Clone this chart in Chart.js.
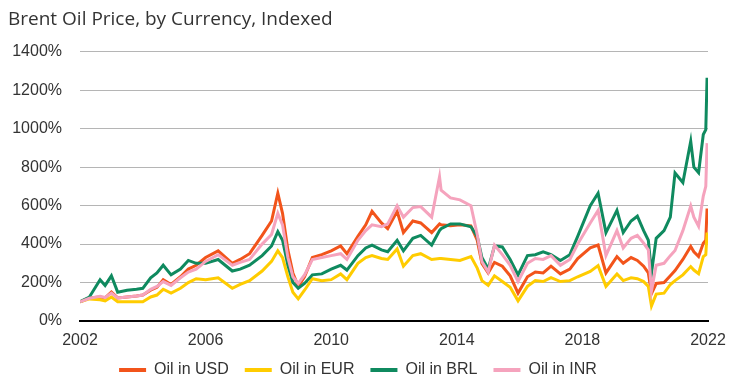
<!DOCTYPE html>
<html>
<head>
<meta charset="utf-8">
<script src="https://cdn.jsdelivr.net/npm/chart.js@4.4.1/dist/chart.umd.min.js"></script>
<style>
  body { margin: 0; background: #fff; }
</style>
</head>
<body>
<canvas id="myChart" width="740" height="390"></canvas>
<script>
// dates as decimal years
const dates = [2002.0, 2002.3, 2002.64, 2002.8, 2003.0, 2003.2, 2003.5, 2003.8, 2004.0, 2004.25,
  2004.45, 2004.65, 2004.9, 2005.2, 2005.45, 2005.7, 2006.0, 2006.4, 2006.85, 2007.1,
  2007.4, 2007.8, 2008.1, 2008.3, 2008.45, 2008.62, 2008.78, 2008.95, 2009.15, 2009.4,
  2009.7, 2010.0, 2010.3, 2010.5, 2010.85, 2011.1, 2011.3, 2011.6, 2011.8, 2012.1,
  2012.3, 2012.6, 2012.85, 2013.2, 2013.45, 2013.5, 2013.8, 2014.1, 2014.45, 2014.65,
  2014.8, 2015.0, 2015.2, 2015.45, 2015.7, 2015.95, 2016.25, 2016.5, 2016.75, 2017.0,
  2017.3, 2017.6, 2017.85, 2018.25, 2018.5, 2018.75, 2019.1, 2019.3, 2019.55, 2019.75,
  2019.95, 2020.1, 2020.2, 2020.35, 2020.6, 2020.8, 2020.95, 2021.2, 2021.45, 2021.55,
  2021.7, 2021.85, 2021.93, 2021.97];

const oilUSD = [100, 120, 125, 120, 150, 120, 125, 130, 135, 160,
  175, 215, 190, 230, 270, 290, 330, 365, 300, 320,
  350, 445, 520, 665, 560, 370, 250, 180, 230, 330,
  345, 365, 390, 350, 440, 500, 570, 510, 480, 570,
  460, 520, 510, 460, 505, 500, 495, 500, 495, 420,
  300, 250, 305, 285, 235, 145, 230, 255, 250, 285,
  245, 270, 325, 380, 395, 250, 335, 300, 330, 315,
  285, 250, 142, 195, 200, 235, 262, 320, 388, 360,
  335, 404, 420, 585];

const oilEUR = [100, 115, 110, 105, 125, 100, 100, 100, 100, 125,
  135, 165, 145, 170, 200, 220, 215, 225, 170, 190,
  210, 260, 310, 365, 330, 230, 150, 115, 160, 220,
  210, 215, 245, 215, 300, 330, 340, 325, 320, 375,
  285, 340, 350, 320, 325, 325, 320, 315, 335, 275,
  210, 185, 235, 205, 175, 105, 180, 210, 205, 225,
  205, 210, 230, 258, 288, 180, 245, 210, 225, 220,
  205, 180, 79, 140, 145, 190, 210, 240, 283, 265,
  246, 335, 345, 460];

const oilBRL = [100, 125, 215, 185, 235, 150, 160, 165, 170, 225,
  250, 290, 240, 270, 315, 300, 300, 320, 260, 270,
  290, 340, 390, 465, 420, 290, 200, 170, 195, 240,
  245, 270, 290, 265, 340, 380, 395, 370, 360, 420,
  365, 430, 445, 395, 470, 480, 505, 505, 490, 440,
  330, 270, 390, 385, 320, 240, 340, 345, 360, 345,
  315, 345, 440, 600, 665, 460, 575, 460, 520, 545,
  470, 420, 250, 430, 470, 540, 770, 720, 935, 800,
  771, 970, 995, 1265];

const oilINR = [100, 118, 128, 122, 145, 120, 125, 130, 135, 165,
  180, 205, 185, 225, 255, 270, 310, 345, 290, 305,
  320, 400, 450, 560, 500, 330, 230, 195, 240, 320,
  330, 340, 350, 320, 420, 470, 500, 490, 505, 600,
  540, 590, 595, 540, 750, 680, 640, 630, 600, 450,
  310, 255, 395, 345, 290, 205, 300, 325, 320, 340,
  290, 320, 400, 510, 575, 340, 470, 380, 430, 445,
  405, 370, 157, 290, 300, 340, 367, 470, 598, 540,
  493, 650, 700, 925];

const seriesNames = ["Oil in USD", "Oil in EUR", "Oil in BRL", "Oil in INR"];
const seriesColors = ["#f2541b", "#ffcc00", "#0f8a5f", "#f5a3bd"];
const seriesValues = [oilUSD, oilEUR, oilBRL, oilINR];

const yTicks = [0, 200, 400, 600, 800, 1000, 1200, 1400];
const xTicks = [2002, 2006, 2010, 2014, 2018, 2022];

const FONT = "'Liberation Sans', Arial, sans-serif";

const datasets = seriesNames.map((name, i) => ({
  label: name,
  data: dates.map((d, j) => ({ x: d, y: seriesValues[i][j] })),
  borderColor: seriesColors[i],
  backgroundColor: seriesColors[i],
  borderWidth: 3,
  pointRadius: 0,
  tension: 0,
  // pink drawn on top
  order: i === 3 ? 0 : 4 - i,
}));

const config = {
  type: "line",
  data: { datasets: datasets },
  options: {
    responsive: false,
    animation: false,
    layout: { padding: { left: 8, right: 32, top: 0, bottom: 2 } },
    plugins: {
      title: {
        display: true,
        text: "Brent Oil Price, by Currency, Indexed",
        align: "start",
        color: "#333",
        font: { family: "'Open Sans', sans-serif", size: 19, weight: "normal" },
        padding: { top: 8, bottom: 21 },
      },
      legend: {
        position: "bottom",
        labels: {
          color: "#333",
          font: { family: FONT, size: 16 },
          boxWidth: 27,
          boxHeight: 4,
          padding: 16,
          sort: (a, b) => a.datasetIndex - b.datasetIndex,
          generateLabels: (chart) =>
            Chart.defaults.plugins.legend.labels.generateLabels(chart).map(l => ({ ...l, lineWidth: 0 })),
        },
      },
      tooltip: { enabled: false },
    },
    scales: {
      x: {
        type: "linear",
        min: 2002,
        max: 2022,
        afterBuildTicks: (scale) => { scale.ticks = xTicks.map(v => ({ value: v })); },
        afterFit: (scale) => { scale.height = 25; },
        ticks: {
          color: "#333",
          font: { family: FONT, size: 16 },
          padding: 10,
          maxRotation: 0,
          callback: (v) => String(v),
        },
        grid: { display: false, drawTicks: false },
        border: { display: true, color: "#000", width: 2 },
      },
      y: {
        min: 0,
        max: 1400,
        afterBuildTicks: (scale) => { scale.ticks = yTicks.map(v => ({ value: v })); },
        afterFit: (scale) => { scale.width = 72; },
        ticks: {
          color: "#333",
          font: { family: FONT, size: 16 },
          padding: 18,
          callback: (v) => v + "%",
        },
        grid: { color: "#b5b5b5", lineWidth: 1, drawTicks: false },
        border: { display: false },
      },
    },
  },
};

const myChart = new Chart(document.getElementById("myChart"), config);
</script>
</body>
</html>
